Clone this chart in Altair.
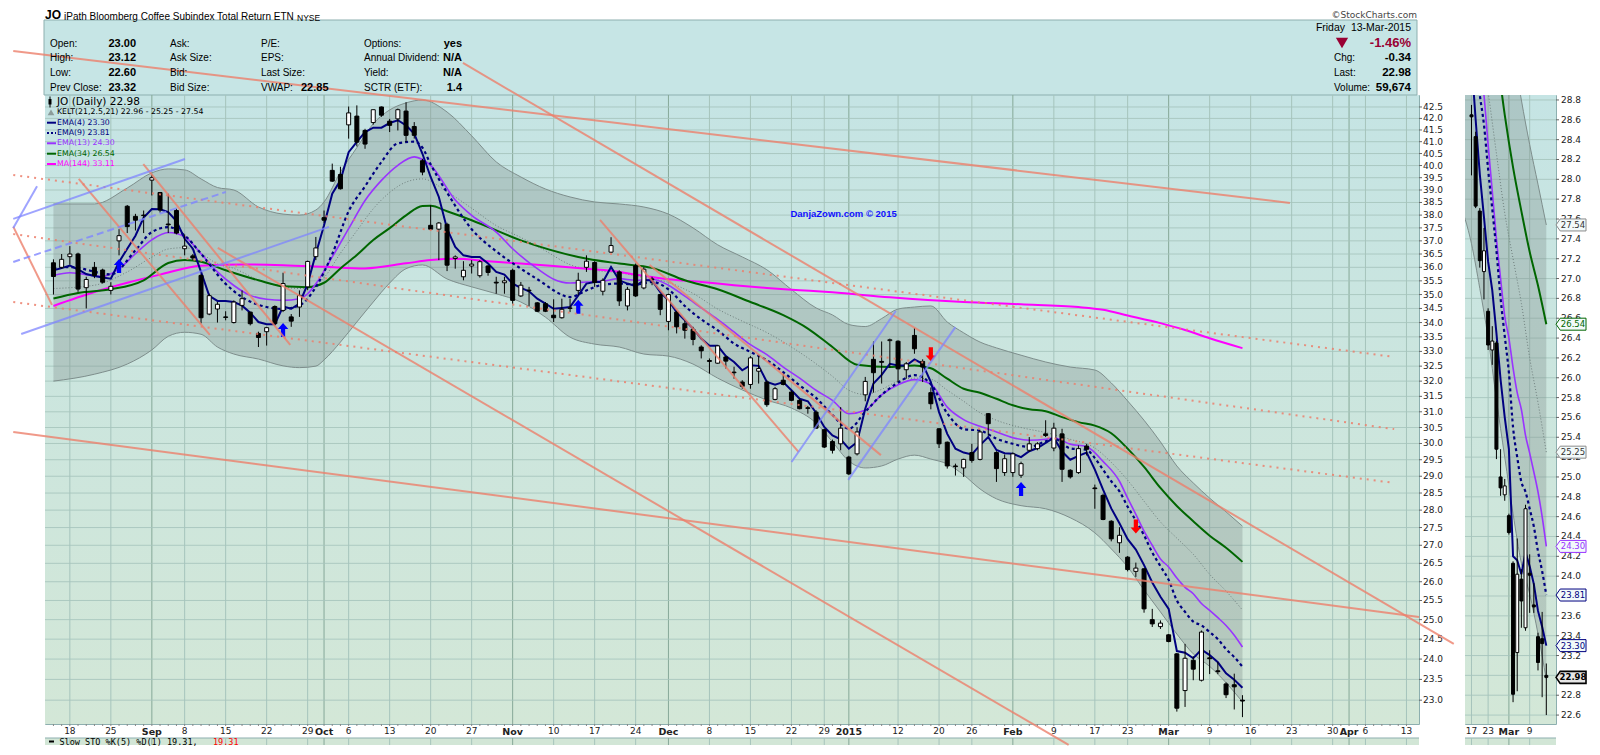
import altair as alt
import pandas as pd

# ---------------- trading days (Aug 14 2014 - Mar 13 2015) ----------------
aug_days = [14, 15, 18, 19, 20, 21, 22, 25, 26, 27, 28, 29]
sep_days = [2, 3, 4, 5, 8, 9, 10, 11, 12, 15, 16, 17, 18, 19, 22, 23, 24, 25, 26, 29, 30]
oct_days = [1, 2, 3, 6, 7, 8, 9, 10, 13, 14, 15, 16, 17, 20, 21, 22, 23, 24, 27, 28, 29, 30, 31]
nov_days = [3, 4, 5, 6, 7, 10, 11, 12, 13, 14, 17, 18, 19, 20, 21, 24, 25, 26, 28]
dec_days = [1, 2, 3, 4, 5, 8, 9, 10, 11, 12, 15, 16, 17, 18, 19, 22, 23, 24, 26, 29, 30, 31]
jan_days = [2, 5, 6, 7, 8, 9, 12, 13, 14, 15, 16, 20, 21, 22, 23, 26, 27, 28, 29, 30]
feb_days = [2, 3, 4, 5, 6, 9, 10, 11, 12, 13, 17, 18, 19, 20, 23, 24, 25, 26, 27]
mar_days = [2, 3, 4, 5, 6, 9, 10, 11, 12, 13]
months = [(2014, 8, aug_days), (2014, 9, sep_days), (2014, 10, oct_days), (2014, 11, nov_days),
          (2014, 12, dec_days), (2015, 1, jan_days), (2015, 2, feb_days), (2015, 3, mar_days)]
dates = [f"{y}-{m:02d}-{d:02d}" for y, m, days in months for d in days]

# ---------------- OHLC ----------------
open_ = [36.17, 36.00, 36.40, 36.50, 35.25, 36.00, 35.90, 35.15, 37.00, 38.35, 37.95, 38.00,
         39.40, 38.90, 37.65, 38.18, 36.70, 36.43, 35.70, 34.30, 34.48, 34.20, 34.00, 34.61, 34.37, 33.62, 33.68, 34.57, 34.43, 34.20, 34.55, 35.28, 36.40,
         37.90, 39.80, 39.63, 41.72, 42.10, 41.48, 41.82, 42.50, 41.88, 41.98, 42.32, 41.65, 40.20, 37.60, 37.45, 37.64, 36.33, 35.65, 36.05, 35.69, 36.05, 35.45, 35.43,
         35.89, 34.95, 35.16, 34.70, 34.67, 34.26, 34.17, 34.50, 35.15, 36.00, 36.18, 35.12, 36.57, 35.83, 34.59, 36.06, 35.24, 35.57, 35.00,
         34.04, 34.37, 33.96, 33.76, 33.15, 32.69, 32.60, 32.81, 32.30, 31.97, 31.89, 32.33, 31.97, 31.40, 32.03, 31.64, 31.37, 31.13, 30.99, 30.43, 30.06, 29.99,
         29.58, 29.68, 31.55, 32.73, 32.66, 33.37, 33.35, 32.38, 33.55, 32.66, 31.62, 30.46, 30.04, 29.31, 29.25, 29.72, 29.51, 30.94, 29.72, 29.11,
         29.11, 29.03, 29.79, 29.84, 30.30, 29.86, 30.30, 29.18, 29.11, 29.92, 28.65, 28.43, 27.68, 27.07, 26.67, 26.28, 26.35, 25.00, 24.82,
         24.61, 24.13, 23.23, 23.97, 23.48, 24.03, 23.71, 23.39, 23.37, 23.00]
high = [36.30, 36.50, 36.80, 36.55, 35.65, 36.20, 35.95, 35.45, 37.45, 38.40, 38.05, 38.18,
        39.62, 38.92, 38.85, 38.25, 37.25, 36.50, 35.75, 35.03, 34.73, 34.40, 34.79, 35.15, 34.37, 33.68, 33.85, 34.61, 35.80, 34.30, 35.15, 36.25, 37.15,
        38.18, 40.08, 39.95, 42.52, 42.57, 41.55, 42.38, 42.52, 41.98, 42.43, 42.71, 41.84, 40.28, 38.39, 37.73, 37.70, 36.45, 36.23, 36.27, 36.27, 36.08, 35.65, 35.65,
        35.95, 35.46, 35.28, 34.73, 34.73, 34.83, 34.85, 34.85, 35.80, 36.45, 36.23, 35.59, 37.14, 35.89, 35.28, 36.14, 36.01, 35.65, 35.03,
        35.03, 34.43, 34.08, 33.85, 33.21, 32.76, 33.21, 32.84, 32.48, 32.03, 32.84, 32.86, 32.03, 31.81, 32.25, 31.70, 31.43, 31.19, 31.05, 30.46, 30.12, 31.15,
        29.62, 30.51, 32.14, 33.34, 33.34, 33.44, 33.38, 32.64, 33.81, 32.73, 31.79, 30.48, 30.06, 29.38, 29.53, 29.99, 30.41, 30.96, 29.76, 29.66,
        29.72, 29.44, 30.20, 30.04, 30.73, 30.65, 30.46, 29.21, 29.94, 29.99, 28.75, 28.48, 27.71, 27.51, 26.70, 26.52, 26.37, 25.28, 24.98,
        24.63, 24.15, 24.38, 24.07, 24.72, 24.22, 23.93, 23.43, 23.64, 23.12]
low = [35.00, 35.95, 36.10, 35.10, 34.50, 35.60, 35.40, 35.00, 36.45, 37.30, 37.40, 37.30,
       38.78, 38.10, 37.30, 37.25, 36.45, 36.27, 33.97, 34.26, 34.00, 34.08, 33.97, 34.43, 33.90, 33.15, 33.20, 33.90, 34.37, 33.85, 34.20, 35.16, 36.27,
       37.70, 39.33, 39.02, 41.13, 40.80, 40.70, 41.73, 42.07, 41.41, 41.48, 40.98, 41.13, 39.60, 37.41, 36.27, 35.86, 35.95, 35.52, 35.77, 35.62, 35.69, 35.03, 35.03,
       34.67, 34.91, 34.59, 34.37, 34.37, 34.02, 34.14, 34.37, 34.97, 35.83, 35.28, 34.97, 36.54, 34.59, 34.43, 34.91, 35.19, 35.34, 34.26,
       33.73, 33.62, 33.44, 33.21, 32.76, 32.25, 32.58, 32.42, 32.08, 31.75, 31.75, 31.92, 31.16, 31.37, 31.86, 31.34, 31.08, 30.94, 30.46, 29.86, 29.69, 29.79,
       29.04, 29.63, 31.34, 31.62, 31.92, 32.44, 31.97, 32.08, 32.92, 31.97, 31.08, 29.86, 29.23, 29.02, 28.98, 29.41, 29.48, 30.25, 28.83, 29.01,
       28.98, 28.95, 29.74, 29.79, 30.20, 29.76, 28.83, 28.93, 29.07, 29.63, 28.04, 27.71, 27.11, 26.79, 26.28, 26.13, 25.18, 24.81, 24.76,
       24.42, 22.73, 22.84, 23.48, 23.45, 23.63, 23.63, 23.05, 22.78, 22.60]
close = [35.66, 36.30, 36.50, 35.20, 35.55, 35.70, 35.45, 35.30, 37.20, 37.55, 37.80, 37.98,
         39.50, 38.20, 37.62, 37.30, 36.80, 36.35, 34.17, 34.96, 34.65, 34.18, 34.73, 34.85, 33.96, 33.48, 33.82, 33.96, 35.40, 34.05, 34.97, 36.22, 36.73,
         37.80, 39.36, 39.05, 42.24, 40.98, 40.90, 42.38, 42.14, 41.70, 42.38, 41.27, 41.27, 39.73, 37.45, 37.69, 36.08, 36.39, 35.89, 36.12, 36.21, 35.81, 35.42, 35.50,
         34.79, 35.34, 35.14, 34.40, 34.40, 34.17, 34.47, 34.52, 35.52, 36.23, 35.44, 35.52, 36.82, 34.77, 35.19, 34.95, 35.93, 35.55, 34.47,
         35.00, 33.85, 33.73, 33.41, 33.02, 32.66, 33.19, 32.67, 32.28, 31.83, 32.78, 32.42, 31.23, 31.75, 31.89, 31.37, 31.10, 31.11, 30.48, 29.89, 29.79, 30.48,
         29.07, 30.36, 31.99, 32.28, 32.63, 33.40, 32.41, 32.58, 33.09, 32.47, 31.26, 29.99, 29.31, 29.29, 29.51, 29.48, 30.36, 30.62, 29.23, 29.53,
         29.68, 29.38, 29.99, 29.99, 30.25, 30.48, 29.21, 28.98, 29.84, 29.82, 28.63, 27.73, 27.18, 27.28, 26.33, 26.37, 25.28, 24.89, 24.91,
         24.44, 22.81, 24.02, 23.75, 24.68, 24.01, 23.69, 23.13, 23.32, 22.98]

# ---------------- indicators ----------------
ema4 = [35.89, 35.97, 36.07, 35.92, 35.75, 35.68, 35.62, 35.58, 36.20, 36.70, 37.20, 37.90,
        38.24, 38.23, 38.12, 37.77, 37.08, 36.70, 35.83, 34.95, 34.77, 34.77, 34.73, 34.60, 34.35, 34.02, 33.94, 33.94, 34.57, 34.49, 34.67, 35.39, 36.51,
        37.60, 38.85, 39.39, 40.56, 40.99, 41.41, 41.60, 41.60, 41.80, 41.92, 41.70, 41.34, 40.49, 39.53, 38.72, 37.47, 36.77, 36.45, 36.39, 36.39, 36.14, 35.83, 35.73,
        35.40, 35.24, 35.12, 34.85, 34.67, 34.49, 34.52, 34.55, 34.97, 35.40, 35.46, 35.46, 36.01, 35.52, 35.40, 35.31, 35.52, 35.52, 35.09,
        34.79, 34.37, 34.08, 33.79, 33.44, 33.19, 33.19, 32.84, 32.64, 32.36, 32.53, 32.51, 31.97, 31.88, 31.97, 31.70, 31.42, 31.34, 30.97, 30.52, 30.25, 30.13,
        29.84, 30.04, 31.10, 31.92, 32.21, 32.58, 32.52, 32.52, 32.73, 32.58, 31.97, 30.99, 30.30, 29.84, 29.72, 29.66, 29.95, 30.20, 29.80, 29.70,
        29.68, 29.58, 29.76, 29.86, 30.02, 30.18, 29.75, 29.50, 29.62, 29.72, 29.20, 28.60, 28.05, 27.62, 27.17, 26.88, 26.45, 25.98, 25.60,
        25.28, 24.20, 24.16, 24.02, 24.24, 24.10, 23.92, 23.65, 23.49, 23.30]
ema9 = [("08-14", 35.95), ("08-18", 36.01), ("08-25", 35.74), ("08-28", 36.64),
        ("09-02", 37.34), ("09-04", 37.53), ("09-08", 37.21), ("09-10", 36.51), ("09-15", 35.39), ("09-17", 34.91),
        ("09-22", 34.55), ("09-24", 34.48), ("09-26", 34.61), ("09-30", 35.27),
        ("10-02", 36.50), ("10-06", 38.15), ("10-08", 39.15), ("10-10", 40.15), ("10-14", 40.93), ("10-16", 41.00),
        ("10-17", 40.75), ("10-20", 40.05), ("10-22", 38.90), ("10-27", 37.45), ("10-30", 36.60),
        ("11-04", 35.95), ("11-07", 35.36), ("11-10", 35.15), ("11-12", 34.91), ("11-14", 35.15), ("11-18", 35.36),
        ("11-20", 35.40), ("11-24", 35.36), ("11-26", 35.46),
        ("12-01", 35.19), ("12-03", 34.59), ("12-05", 34.11), ("12-09", 33.73), ("12-11", 33.27), ("12-15", 32.98),
        ("12-17", 32.70), ("12-19", 32.30), ("12-23", 31.86), ("12-26", 31.45), ("12-30", 30.90),
        ("01-02", 30.46), ("01-06", 31.00), ("01-08", 31.55), ("01-12", 31.95), ("01-14", 32.20), ("01-16", 31.90),
        ("01-21", 30.95), ("01-23", 30.45), ("01-27", 30.40), ("01-29", 30.15),
        ("02-02", 29.99), ("02-04", 29.89), ("02-06", 30.07), ("02-09", 30.15), ("02-11", 29.85), ("02-13", 29.80),
        ("02-17", 29.55), ("02-18", 29.20), ("02-19", 28.85), ("02-20", 28.55), ("02-23", 28.10), ("02-24", 27.70),
        ("02-25", 27.28), ("02-26", 26.80), ("02-27", 26.42),
        ("03-02", 26.05), ("03-03", 25.50), ("03-04", 25.20), ("03-05", 24.95), ("03-06", 24.85), ("03-09", 24.68),
        ("03-10", 24.50), ("03-11", 24.25), ("03-12", 24.05), ("03-13", 23.81)]
ema13 = [("08-14", 35.70), ("08-18", 35.80), ("08-22", 35.66), ("08-26", 35.95), ("08-28", 36.51),
         ("09-02", 37.04), ("09-04", 37.32), ("09-08", 37.16), ("09-10", 36.51), ("09-12", 35.83), ("09-16", 35.33),
         ("09-18", 34.97), ("09-22", 34.83), ("09-24", 34.79), ("09-26", 34.85), ("09-29", 35.03), ("09-30", 35.39),
         ("10-02", 36.39), ("10-06", 37.47), ("10-08", 38.58), ("10-10", 39.39), ("10-14", 40.01), ("10-16", 40.36),
         ("10-17", 40.25), ("10-20", 40.01), ("10-23", 38.60), ("10-27", 37.99), ("10-30", 37.34),
         ("11-03", 36.70), ("11-06", 35.95), ("11-10", 35.56), ("11-12", 35.42), ("11-14", 35.46), ("11-18", 35.49),
         ("11-20", 35.58), ("11-24", 35.52), ("11-26", 35.56),
         ("12-01", 35.34), ("12-03", 34.94), ("12-05", 34.52), ("12-09", 34.11), ("12-11", 33.67), ("12-15", 33.23),
         ("12-17", 32.89), ("12-19", 32.47), ("12-23", 32.10), ("12-26", 31.70), ("12-30", 31.37),
         ("01-02", 30.94), ("01-06", 31.05), ("01-08", 31.55), ("01-12", 31.88), ("01-14", 32.05), ("01-16", 31.90),
         ("01-21", 31.15), ("01-23", 30.75), ("01-27", 30.54), ("01-29", 30.36),
         ("02-02", 30.18), ("02-04", 30.10), ("02-06", 30.13), ("02-09", 30.18), ("02-11", 29.98), ("02-13", 29.90),
         ("02-18", 29.45), ("02-20", 28.85), ("02-23", 28.35), ("02-24", 27.88), ("02-25", 27.40), ("02-26", 27.00),
         ("02-27", 26.62),
         ("03-02", 26.40), ("03-03", 26.10), ("03-04", 25.85), ("03-05", 25.68), ("03-06", 25.42), ("03-09", 25.24),
         ("03-10", 25.05), ("03-11", 24.85), ("03-12", 24.60), ("03-13", 24.30)]
ema34 = [("08-14", 34.86), ("08-19", 35.06), ("08-25", 35.19), ("08-29", 35.52),
         ("09-04", 36.16), ("09-08", 36.27), ("09-10", 36.21), ("09-15", 35.89), ("09-19", 35.52), ("09-24", 35.30), ("09-29", 35.27),
         ("10-01", 35.43), ("10-03", 35.96), ("10-07", 36.46), ("10-09", 37.03), ("10-13", 37.49), ("10-15", 37.99),
         ("10-17", 38.36), ("10-20", 38.37), ("10-22", 38.15), ("10-27", 37.80),
         ("11-04", 37.02), ("11-13", 36.39), ("11-20", 36.14), ("11-26", 35.98),
         ("12-03", 35.52), ("12-09", 35.19), ("12-15", 34.73), ("12-19", 34.26), ("12-24", 33.79), ("12-30", 33.15),
         ("01-05", 32.55), ("01-09", 32.47), ("01-14", 32.52), ("01-16", 32.43), ("01-21", 32.08), ("01-23", 31.75),
         ("01-27", 31.62), ("01-29", 31.42),
         ("02-02", 31.21), ("02-04", 31.08), ("02-06", 31.02), ("02-10", 30.83), ("02-12", 30.67), ("02-17", 30.56),
         ("02-19", 30.32), ("02-23", 29.84), ("02-25", 29.28), ("02-27", 28.65),
         ("03-03", 28.12), ("03-05", 27.68), ("03-09", 27.27), ("03-11", 26.93), ("03-13", 26.54)]
ma144 = [("08-14", 34.59), ("08-21", 35.09), ("08-27", 35.43), ("09-03", 35.73), ("09-10", 36.06), ("09-17", 36.11),
         ("09-24", 36.08), ("10-01", 36.02), ("10-08", 35.96), ("10-15", 36.15), ("10-20", 36.27), ("10-23", 36.32),
         ("10-29", 36.23), ("11-04", 36.14), ("11-10", 36.05), ("11-14", 35.95), ("11-19", 35.87), ("11-25", 35.68),
         ("12-01", 35.56), ("12-05", 35.46), ("12-11", 35.34), ("12-17", 35.24), ("12-23", 35.16), ("12-30", 35.08),
         ("01-09", 34.90), ("01-23", 34.73), ("02-03", 34.65), ("02-12", 34.55), ("02-18", 34.45), ("02-23", 34.25),
         ("02-27", 33.98), ("03-04", 33.74), ("03-09", 33.45), ("03-13", 33.11)]
kelt_dates = ["08-14", "08-21", "08-27",
              "09-02", "09-04", "09-08", "09-10", "09-12", "09-16", "09-19", "09-24", "09-26", "09-30",
              "10-01", "10-03", "10-07", "10-09", "10-13", "10-15", "10-17", "10-22", "10-27", "10-30",
              "11-04", "11-07", "11-12", "11-17", "11-20", "11-25",
              "12-01", "12-04", "12-09", "12-12", "12-17", "12-22", "12-26", "12-30",
              "01-02", "01-06", "01-08", "01-12", "01-14", "01-16", "01-21", "01-23", "01-27", "01-29",
              "02-03", "02-06", "02-11", "02-17", "02-19", "02-23", "02-25", "02-27",
              "03-03", "03-05", "03-09", "03-11", "03-13"]
kelt_upper = [38.44, 38.44, 39.08,
              39.70, 39.86, 39.82, 39.45, 39.10, 39.00, 38.32, 38.04, 38.00, 38.20,
              38.52, 39.73, 40.75, 41.77, 42.37, 42.68, 42.81, 42.28, 41.25, 40.15,
              39.53, 39.04, 38.72, 38.52, 38.44, 38.32,
              38.04, 37.50, 36.85, 36.39, 35.91, 35.18, 34.52, 34.27,
              33.93, 33.86, 34.14, 34.48, 34.55, 34.59, 34.02, 33.64, 33.32, 33.12,
              32.87, 32.64, 32.47, 32.37, 31.94, 31.35, 30.73, 30.05,
              29.31, 28.80, 28.35, 27.95, 27.54]
kelt_mid = [35.22, 35.34, 35.83,
            36.38, 36.69, 36.74, 36.52, 36.13, 35.96, 35.53, 35.28, 35.22, 35.35,
            35.62, 36.53, 37.39, 38.25, 38.90, 39.32, 39.45, 38.93, 38.27, 37.59,
            37.13, 36.62, 36.10, 35.89, 35.80, 35.62,
            35.44, 35.04, 34.48, 34.05, 33.65, 33.15, 32.58, 32.16,
            31.70, 31.56, 31.73, 32.00, 32.10, 32.06, 31.70, 31.34, 30.97, 30.73,
            30.50, 30.34, 30.13, 29.86, 29.42, 28.88, 28.26, 27.66,
            27.20, 26.75, 26.20, 25.75, 25.25]
kelt_lower = [32.00, 32.23, 32.57,
              33.05, 33.52, 33.66, 33.59, 33.15, 32.91, 32.74, 32.51, 32.45, 32.50,
              32.71, 33.32, 34.02, 34.73, 35.42, 35.95, 36.09, 35.57, 35.28, 35.03,
              34.73, 34.19, 33.49, 33.25, 33.15, 32.91,
              32.84, 32.57, 32.10, 31.71, 31.38, 31.12, 30.64, 30.05,
              29.46, 29.25, 29.31, 29.52, 29.64, 29.52, 29.37, 29.04, 28.62, 28.33,
              28.13, 28.04, 27.78, 27.35, 26.90, 26.40, 25.78, 25.20,
              24.63, 24.13, 23.82, 23.42, 22.96]

# signal arrows (date, price)
buy_arrows = [("08-26", 36.05), ("09-24", 33.74), ("11-13", 34.56), ("02-03", 28.62)]
sell_arrows = [("01-16", 32.90), ("02-24", 27.53)]

# hand-drawn annotation lines: (trading-day index, price) -> (index, price)
red_lines = [(-6.9, 37.55, -2.18, 34.63), (-6.9, 45.03, 148.79, 38.48), (47.94, 44.48, 168.77, 24.38),
             (-6.9, 30.36, 164.53, 25.07), (1.09, 39.45, 17.07, 33.57), (8.96, 40.06, 26.88, 33.22),
             (18.04, 36.73, 121.8, 21.96), (64.65, 37.81, 88.86, 29.74), (70.70, 36.09, 98.91, 29.64)]
red_dotted = [(-6.9, 39.61, 161.5, 32.81), (-6.9, 37.26, 161.5, 30.45), (-6.9, 34.73, 161.5, 28.80)]
blue_lines = [(-5.93, 33.60, 31.60, 37.54), (-6.9, 37.85, 14.04, 40.27), (-6.9, 37.50, -4.00, 39.15),
              (88.01, 29.43, 100.73, 34.41), (94.92, 28.89, 107.99, 33.84)]
blue_dashed = [(-6.9, 36.20, 19.01, 38.92)]

# axis ticks
x_tick_idx = [0, 5, 10, 14, 19, 24, 29, 31, 34, 39, 44, 49, 54, 59, 64, 69, 73, 78, 83, 88, 92, 95, 101,
              106, 110, 115, 120, 125, 129, 134, 139, 144, 149, 154, 156, 158, 163]
x_tick_lab = ["18", "25", "Sep", "8", "15", "22", "29", "Oct", "6", "13", "20", "27", "Nov", "10", "17", "24",
              "Dec", "8", "15", "22", "29", "2015", "12", "20", "26", "Feb", "9", "17", "23", "Mar", "9", "16",
              "23", "30", "Apr", "6", "13"]
month_idx = [10, 31, 54, 73, 95, 115, 134, 156]
y_ticks = [round(23.0 + 0.5 * k, 1) for k in range(40)]
r_tick_idx = [125, 129, 134, 139]
r_tick_lab = ["17", "23", "Mar", "9"]
r_month_idx = [134]
r_y_ticks = [round(22.6 + 0.2 * k, 1) for k in range(32)]
r_y_hidden = [23.0, 23.8]          # price labels fully covered by value tags in the original
tags = [(27.54, "27.54", "#8A8A8A", "#333333"), (26.54, "26.54", "#006600", "#006600"),
        (25.25, "25.25", "#8A8A8A", "#333333"), (24.30, "24.30", "#9933FF", "#9933FF"),
        (23.81, "23.81", "#000080", "#000080"), (23.30, "23.30", "#000080", "#000080"),
        (22.98, "22.98", "#000000", "#000000")]

# ---------------- frames ----------------
pos = {d: k - 2 for k, d in enumerate(dates)}


def day(md):
    return pos[("2015-" if md[:2] in ("01", "02", "03") else "2014-") + md]


def series(pairs):
    return pd.DataFrame({"i": [day(d) for d, _ in pairs], "p": [v for _, v in pairs]})


def segs(lst):
    rows = []
    for n, (x1, p1, x2, p2) in enumerate(lst):
        rows += [{"id": n, "i": x1, "p": p1}, {"id": n, "i": x2, "p": p2}]
    return pd.DataFrame(rows)


candles = pd.DataFrame({"i": [pos[d] for d in dates], "o": open_, "h": high, "l": low, "c": close})
ema4_df = pd.DataFrame({"i": [pos[d] for d in dates], "p": ema4})
ema9_df, ema13_df, ema34_df, ma144_df = series(ema9), series(ema13), series(ema34), series(ma144)
band_df = pd.DataFrame({"i": [day(d) for d in kelt_dates], "u": kelt_upper, "lo": kelt_lower, "m": kelt_mid})
up_line = pd.DataFrame({"i": band_df["i"], "p": kelt_upper})
lo_line = pd.DataFrame({"i": band_df["i"], "p": kelt_lower})
mid_line = pd.DataFrame({"i": band_df["i"], "p": kelt_mid})
buy_df, sell_df = series(buy_arrows), series(sell_arrows)
one = pd.DataFrame({"k": [0]})

W, H = 1374, 629
WR = 91
STO_TOP, STO_BOT = 643, 650

xs = alt.Scale(domain=[-2.42, 163.92], nice=False, zero=False)
ys = alt.Scale(type="log", domain=[22.44, 43.03], nice=False, zero=False)
xr = alt.Scale(domain=[124.64, 144.13], nice=False, zero=False)
yr = alt.Scale(domain=[22.51, 28.85], nice=False, zero=False)

GRAD = {"gradient": "linear", "x1": 0, "y1": 0, "x2": 0, "y2": 1,
        "stops": [{"offset": 0, "color": "#C5E4E4"}, {"offset": 1, "color": "#D3E7D7"}]}
UP_PATH = "M0,-1L0.75,-0.15L0.3,-0.15L0.3,1L-0.3,1L-0.3,-0.15L-0.75,-0.15Z"
DOWN_PATH = "M0,1L0.75,0.15L0.3,0.15L0.3,-1L-0.3,-1L-0.3,0.15L-0.75,0.15Z"
TAG_PATH = "M-1,0L-0.72,-0.4L1,-0.4L1,0.4L-0.72,0.4Z"


def X(sc):
    return alt.X("i:Q", scale=sc, axis=None)


def Yf(f, sc):
    return alt.Y(f"{f}:Q", scale=sc, axis=None)


def prect(x1, x2, y1, y2, **kw):
    return alt.Chart(one).mark_rect(**kw).encode(x=alt.value(x1), x2=alt.value(x2), y=alt.value(y1), y2=alt.value(y2))


def prule(x1, x2, y1, y2, **kw):
    return alt.Chart(one).mark_rule(**kw).encode(x=alt.value(x1), x2=alt.value(x2), y=alt.value(y1), y2=alt.value(y2))


def txt(x, y, t, size=10, weight="normal", color="#000000", align="left", baseline="middle", font="Liberation Sans"):
    return alt.Chart(one).mark_text(align=align, baseline=baseline, fontSize=size, fontWeight=weight,
                                    color=color, font=font).encode(x=alt.value(x), y=alt.value(y), text=alt.value(t))


def line(df, sc_x, sc_y, color, width, dash=None, clip=False, interp="linear", opacity=1.0):
    kw = dict(color=color, strokeWidth=width, clip=clip, interpolate=interp, opacity=opacity)
    if dash:
        kw["strokeDash"] = dash
    return alt.Chart(df).mark_line(**kw).encode(x=X(sc_x), y=Yf("p", sc_y))


def xgrid(idx, months_, sc, y1, y2):
    df = pd.DataFrame({"i": idx, "month": [v in months_ for v in idx]})
    return alt.Chart(df).mark_rule(strokeWidth=1).encode(
        x=X(sc), y=alt.value(y1), y2=alt.value(y2),
        color=alt.condition("datum.month", alt.value("#86A898"), alt.value("#A6C4BC")))


def xlabels(idx, labs, months_, sc):
    df = pd.DataFrame({"i": idx, "t": labs, "b": [v in months_ for v in idx]})
    out = []
    for flag, weight, size in [(False, "normal", 9), (True, "bold", 9.5)]:
        out.append(alt.Chart(df[df["b"] == flag]).mark_text(
            baseline="top", align="center", fontSize=size, fontWeight=weight, font="DejaVu Sans",
            color="#222222").encode(x=X(sc), y=alt.value(H + 2.5), text="t:N"))
    return out


def ygrid(vals, sc, width):
    return alt.Chart(pd.DataFrame({"p": vals})).mark_rule(strokeWidth=1, color="#A6C4BC", opacity=0.85).encode(
        y=Yf("p", sc), x=alt.value(0), x2=alt.value(width))


def ylabels(vals, sc, width, gap, hidden=()):
    df = pd.DataFrame({"p": vals, "t": [f"{v:.1f}" for v in vals]})
    shown = df[~df["p"].isin(list(hidden))]
    return [alt.Chart(df).mark_rule(color="#666666", strokeWidth=1).encode(
                y=Yf("p", sc), x=alt.value(width), x2=alt.value(width + 3)),
            alt.Chart(shown).mark_text(align="left", baseline="middle", fontSize=9, font="DejaVu Sans",
                                       color="#222222").encode(y=Yf("p", sc), x=alt.value(width + gap), text="t:N")]


def candle_layers(df, sx, sy, size, clip):
    wick = alt.Chart(df).mark_rule(color="#000000", strokeWidth=1, clip=clip).encode(
        x=X(sx), y=Yf("l", sy), y2="h:Q")
    body = alt.Chart(df).mark_bar(size=size, stroke="#000000", strokeWidth=1, clip=clip).encode(
        x=X(sx), y=Yf("o", sy), y2="c:Q",
        fill=alt.condition("datum.c > datum.o", alt.value("#FFFFFF"), alt.value("#000000")))
    return [wick, body]


def band_layers(sx, sy, clip):
    area = alt.Chart(band_df).mark_area(color="#7B8B89", opacity=0.33, clip=clip, interpolate="monotone").encode(
        x=X(sx), y=Yf("u", sy), y2="lo:Q")
    return [area,
            line(up_line, sx, sy, "#7E8E8C", 1, clip=clip, interp="monotone"),
            line(lo_line, sx, sy, "#7E8E8C", 1, clip=clip, interp="monotone"),
            line(mid_line, sx, sy, "#6E7E7C", 1, dash=[1, 2], clip=clip, interp="monotone")]


def ind_layers(sx, sy, clip):
    return [line(ma144_df, sx, sy, "#FF00FF", 2, clip=clip, interp="monotone"),
            line(ema34_df, sx, sy, "#006600", 2, clip=clip, interp="monotone"),
            line(ema13_df, sx, sy, "#9933FF", 1.6, clip=clip, interp="monotone"),
            line(ema9_df, sx, sy, "#000080", 2.2, dash=[3, 3], clip=clip, interp="monotone"),
            line(ema4_df, sx, sy, "#000080", 2, clip=clip)]


# ---------------- main panel ----------------
main_layers = [
    prect(0, W, 0, H, color=GRAD),
    prect(-1, W - 2, -75, 0, fill="#C6E5E5", stroke="#8DAFAF", strokeWidth=1),
    prect(0, W, STO_TOP, STO_BOT, color="#D2E6D6"),
    prule(0, W, STO_TOP, STO_TOP, color="#8DAFAF", strokeWidth=1),
    xgrid(x_tick_idx, month_idx, xs, 0, H),
    xgrid(x_tick_idx, month_idx, xs, STO_TOP, STO_BOT),
    ygrid(y_ticks, ys, W),
    alt.Chart(pd.DataFrame({"i": list(range(-2, 164))})).mark_rule(color="#888888", strokeWidth=1).encode(
        x=X(xs), y=alt.value(H), y2=alt.value(H + 2)),
]
main_layers += xlabels(x_tick_idx, x_tick_lab, month_idx, xs)
main_layers += ylabels(y_ticks, ys, W, 4)
main_layers += band_layers(xs, ys, False)
main_layers += ind_layers(xs, ys, False)
main_layers += candle_layers(candles, xs, ys, 4, False)
main_layers += [
    alt.Chart(buy_df).mark_point(shape=UP_PATH, size=196, filled=True, color="#0000FF", opacity=1).encode(
        x=X(xs), y=Yf("p", ys)),
    alt.Chart(sell_df).mark_point(shape=DOWN_PATH, size=196, filled=True, color="#FF0000", opacity=1).encode(
        x=X(xs), y=Yf("p", ys)),
]
for df_, col, dash, op in [(segs(red_lines), "#EC7F6C", None, 0.8), (segs(red_dotted), "#EC7F6C", [2, 5], 0.85),
                           (segs(blue_lines), "#7F86FF", None, 0.75), (segs(blue_dashed), "#7F86FF", [7, 4], 0.8)]:
    kw = dict(color=col, strokeWidth=2, opacity=op)
    if dash:
        kw["strokeDash"] = dash
    main_layers.append(alt.Chart(df_).mark_line(**kw).encode(x=X(xs), y=Yf("p", ys), detail="id:N"))

main_layers.append(
    alt.Chart(pd.DataFrame({"i": [day("12-22")], "p": [38.05]})).mark_text(
        align="left", baseline="middle", fontSize=9.5, fontWeight="bold", color="#1010FF", font="Liberation Sans",
        dx=-1).encode(x=X(xs), y=Yf("p", ys), text=alt.value("DanjaZown.com © 2015")))

# legend block
leg_rows = [7, 17.3, 27.7, 38, 48.3, 58.7, 69]
leg_text = ["JO (Daily) 22.98", "KELT(21,2.5,21) 22.96 - 25.25 - 27.54", "EMA(4) 23.30", "EMA(9) 23.81",
            "EMA(13) 24.30", "EMA(34) 26.54", "MA(144) 33.11"]
leg_col = ["#000000", "#000000", "#000080", "#000080", "#9933FF", "#006600", "#FF00FF"]
for k, (yy, t, c) in enumerate(zip(leg_rows, leg_text, leg_col)):
    main_layers.append(txt(12, yy, t, size=10.5 if k == 0 else 7.8, color=c, font="DejaVu Sans"))
main_layers += [
    prule(5, 5, 1.5, 12.5, color="#000000", strokeWidth=1),
    prect(3.5, 6.5, 4, 9.5, color="#000000"),
    alt.Chart(one).mark_point(shape="triangle-up", size=45, filled=True, color="#8C9C9A", opacity=1).encode(
        x=alt.value(6), y=alt.value(17.3)),
]
for yy, c, dash in [(27.7, "#000080", None), (38, "#000080", [2, 2]), (48.3, "#9933FF", None),
                    (58.7, "#006600", None), (69, "#FF00FF", None)]:
    kw = dict(color=c, strokeWidth=2)
    if dash:
        kw["strokeDash"] = dash
    main_layers.append(prule(2, 11, yy, yy, **kw))

# title + header information box
main_layers += [
    txt(0, -85, "JO", size=12, weight="bold", baseline="top"),
    txt(19, -83, "iPath Bloomberg Coffee Subindex Total Return ETN", size=10, baseline="top"),
    txt(252, -81.5, "NYSE", size=8.5, baseline="top"),
    txt(1372, -84, "©StockCharts.com", size=9, color="#444444", align="right", baseline="top", font="DejaVu Sans"),
]
rows_y = [-51, -37, -22, -7]
for col_x, labels in [(5, ["Open:", "High:", "Low:", "Prev Close:"]), (125, ["Ask:", "Ask Size:", "Bid:", "Bid Size:"]),
                      (216, ["P/E:", "EPS:", "Last Size:", "VWAP:"]),
                      (319, ["Options:", "Annual Dividend:", "Yield:", "SCTR (ETF):"])]:
    for yy, t in zip(rows_y, labels):
        main_layers.append(txt(col_x, yy, t, size=10))
for yy, t in zip(rows_y, ["23.00", "23.12", "22.60", "23.32"]):
    main_layers.append(txt(91, yy, t, size=11, weight="bold", align="right"))
for yy, t in zip(rows_y, ["yes", "N/A", "N/A", "1.4"]):
    main_layers.append(txt(417, yy, t, size=11, weight="bold", align="right"))
main_layers.append(txt(256, -7, "22.85", size=11, weight="bold"))
main_layers += [
    txt(1366, -67, "Friday\u00a0\u00a013-Mar-2015", size=10.5, align="right"),
    txt(1366, -52, "-1.46%", size=13, weight="bold", color="#990033", align="right"),
    alt.Chart(one).mark_point(shape="triangle-down", size=150, filled=True, color="#990033", opacity=1).encode(
        x=alt.value(1297), y=alt.value(-52)),
]
for yy, lab, val in [(-37, "Chg:", "-0.34"), (-22, "Last:", "22.98"), (-7, "Volume:", "59,674")]:
    main_layers.append(txt(1289, yy, lab, size=10))
    main_layers.append(txt(1366, yy, val, size=11.5, weight="bold", align="right"))

# slow stochastic panel header
main_layers += [
    prule(4, 9, 646.5, 646.5, color="#000000", strokeWidth=2),
    txt(14.5, 646.5, "Slow STO %K(5) %D(1) 19.31,", size=8.5, font="DejaVu Sans Mono"),
    txt(168, 646.5, "19.31", size=8.5, color="#FF0000", font="DejaVu Sans Mono"),
]

main = alt.layer(*main_layers).properties(width=W, height=H)

# ---------------- right zoom panel ----------------
right_candles = candles[candles["i"] >= 124]
right_layers = [
    prect(0, WR, 0, H, color=GRAD),
    prect(0, WR, STO_TOP, STO_BOT, color="#D2E6D6"),
    prule(0, WR, STO_TOP, STO_TOP, color="#8DAFAF", strokeWidth=1),
    xgrid(r_tick_idx, r_month_idx, xr, 0, H),
    xgrid(r_tick_idx, r_month_idx, xr, STO_TOP, STO_BOT),
    ygrid(r_y_ticks, yr, WR),
]
right_layers += xlabels(r_tick_idx, r_tick_lab, r_month_idx, xr)
right_layers += ylabels(r_y_ticks, yr, WR, 5, r_y_hidden)
right_layers += band_layers(xr, yr, True)
right_layers += ind_layers(xr, yr, True)
right_layers += candle_layers(right_candles, xr, yr, 3, True)
for val, t, sc, tc in tags:
    d = pd.DataFrame({"p": [val]})
    bold = t == "22.98"
    right_layers.append(alt.Chart(d).mark_point(
        shape=TAG_PATH, size=900, fill="#E6E6E6" if bold else "#F2FAFA", stroke=sc,
        strokeWidth=1.6 if bold else 1, opacity=1, fillOpacity=1).encode(x=alt.value(WR + 15), y=Yf("p", yr)))
    right_layers.append(alt.Chart(d).mark_text(
        align="center", baseline="middle", fontSize=8.5, font="DejaVu Sans", color=tc,
        fontWeight="bold" if bold else "normal").encode(x=alt.value(WR + 17), y=Yf("p", yr), text=alt.value(t)))

right = alt.layer(*right_layers).properties(width=WR, height=H)

chart = alt.hconcat(main, right, spacing=46, bounds="flush").properties(padding=0).configure_view(
    stroke="#8DAFAF", strokeWidth=1)

chart.save("out.html", embed_options={"renderer": "svg", "actions": False})
